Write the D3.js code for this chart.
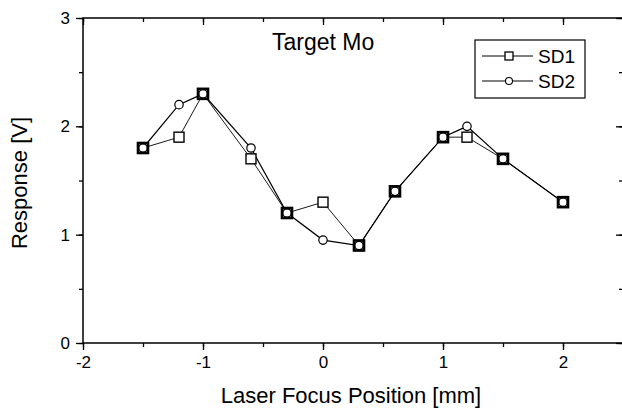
<!DOCTYPE html>
<html>
<head>
<meta charset="utf-8">
<script src="https://cdn.jsdelivr.net/npm/d3@7"></script>
<style>
	body { margin: 0; background: #fff; }
	text { font-family: "Liberation Sans", Arial, sans-serif; fill: #000; }
</style>
</head>
<body>
<script>
var positions = [-1.5, -1.2, -1, -0.6, -0.3, 0, 0.3, 0.6, 1, 1.2, 1.5, 2];
var sd1 = [1.8, 1.9, 2.3, 1.7, 1.2, 1.3, 0.9, 1.4, 1.9, 1.9, 1.7, 1.3];
var sd2 = [1.8, 2.2, 2.3, 1.8, 1.2, 0.95, 0.9, 1.4, 1.9, 2.0, 1.7, 1.3];
var xTicks = [-2, -1, 0, 1, 2];
var yTicks = [0, 1, 2, 3];

var W = 622, H = 412;
var svg = d3.select("body").append("svg").attr("width", W).attr("height", H);

var x = d3.scaleLinear().domain([-2, 2.5]).range([83, 623]);
var y = d3.scaleLinear().domain([0, 3]).range([343, 18]);

var xMinor = d3.range(-2, 2.51, 0.5);
var yMinor = d3.range(0, 3.01, 0.5);
var plainNum = function(d) { return String(d); };

// frame
svg.append("rect")
	.attr("x", x(-2)).attr("y", y(3))
	.attr("width", x(2.5) - x(-2)).attr("height", y(0) - y(3))
	.attr("fill", "none").attr("stroke", "#000").attr("stroke-width", 1.5);

function labelStyle(g)
{
	g.select(".domain").remove();
	g.selectAll("text").attr("font-size", "17px").attr("font-family", "Liberation Sans, Arial, sans-serif");
}
function noDomain(g) { g.select(".domain").remove(); }

// bottom axis, ticks outward
svg.append("g")
	.attr("transform", "translate(0," + y(0) + ")")
	.call(d3.axisBottom(x).tickValues(xMinor).tickSize(4).tickFormat(""))
	.call(noDomain);
svg.append("g")
	.attr("transform", "translate(0," + y(0) + ")")
	.call(d3.axisBottom(x).tickValues(xTicks).tickSize(7).tickPadding(6).tickFormat(plainNum))
	.call(labelStyle);

// left axis, ticks outward
svg.append("g")
	.attr("transform", "translate(" + x(-2) + ",0)")
	.call(d3.axisLeft(y).tickValues(yMinor).tickSize(4).tickFormat(""))
	.call(noDomain);
svg.append("g")
	.attr("transform", "translate(" + x(-2) + ",0)")
	.call(d3.axisLeft(y).tickValues(yTicks).tickSize(7).tickPadding(6).tickFormat(plainNum))
	.call(labelStyle);

// top axis, ticks inward
svg.append("g")
	.attr("transform", "translate(0," + y(3) + ")")
	.call(d3.axisBottom(x).tickValues(xMinor).tickSize(4).tickFormat(""))
	.call(noDomain);
svg.append("g")
	.attr("transform", "translate(0," + y(3) + ")")
	.call(d3.axisBottom(x).tickValues(xTicks).tickSize(7).tickFormat(""))
	.call(noDomain);

// right axis, ticks inward
svg.append("g")
	.attr("transform", "translate(" + x(2.5) + ",0)")
	.call(d3.axisLeft(y).tickValues(yMinor).tickSize(4).tickFormat(""))
	.call(noDomain);
svg.append("g")
	.attr("transform", "translate(" + x(2.5) + ",0)")
	.call(d3.axisLeft(y).tickValues(yTicks).tickSize(7).tickFormat(""))
	.call(noDomain);

svg.selectAll(".tick line").attr("stroke-width", 1.3);

// axis titles
svg.append("text")
	.attr("x", 351).attr("y", 403)
	.attr("text-anchor", "middle").attr("font-size", "22px")
	.text("Laser Focus Position [mm]");
svg.append("text")
	.attr("transform", "translate(27,183) rotate(-90)")
	.attr("text-anchor", "middle").attr("font-size", "22px")
	.text("Response [V]");
svg.append("text")
	.attr("x", 272).attr("y", 50)
	.attr("font-size", "23px")
	.text("Target Mo");

// series
var pts1 = positions.map(function(p, i) { return [p, sd1[i]]; });
var pts2 = positions.map(function(p, i) { return [p, sd2[i]]; });
var line = d3.line().x(function(d) { return x(d[0]); }).y(function(d) { return y(d[1]); });

svg.append("path").attr("d", line(pts1))
	.attr("fill", "none").attr("stroke", "#000").attr("stroke-width", 0.9);
svg.append("path").attr("d", line(pts2))
	.attr("fill", "none").attr("stroke", "#000").attr("stroke-width", 1.2);

svg.selectAll("rect.sd1").data(pts1).enter().append("rect")
	.classed("sd1", 1)
	.attr("x", function(d) { return x(d[0]) - 5; })
	.attr("y", function(d) { return y(d[1]) - 5; })
	.attr("width", 10).attr("height", 10)
	.attr("fill", "#fff").attr("stroke", "#000").attr("stroke-width", 1.4);

svg.selectAll("circle.sd2").data(pts2).enter().append("circle")
	.classed("sd2", 1)
	.attr("cx", function(d) { return x(d[0]); })
	.attr("cy", function(d) { return y(d[1]); })
	.attr("r", 4.2)
	.attr("fill", "#fff").attr("stroke", "#000").attr("stroke-width", 1.2);

// overlapping points look filled between square and circle
svg.selectAll("rect.both").data(pts1.filter(function(d, i) { return sd1[i] === sd2[i]; })).enter().append("rect")
	.classed("both", 1)
	.attr("x", function(d) { return x(d[0]) - 5; })
	.attr("y", function(d) { return y(d[1]) - 5; })
	.attr("width", 10).attr("height", 10)
	.attr("fill", "none").attr("stroke", "#000").attr("stroke-width", 2.6);

// legend
var legend = svg.append("g");
legend.append("rect")
	.attr("x", 475).attr("y", 40).attr("width", 110).attr("height", 58)
	.attr("fill", "#fff").attr("stroke", "#000").attr("stroke-width", 1.2);

var legendRows = [{ name: "SD1", shape: "square", y: 56 }, { name: "SD2", shape: "circle", y: 81 }];
legendRows.forEach(function(r)
{
	legend.append("line")
		.attr("x1", 482).attr("x2", 533).attr("y1", r.y).attr("y2", r.y)
		.attr("stroke", "#000").attr("stroke-width", 1);
	if (r.shape === "square")
	{
		legend.append("rect")
			.attr("x", 505).attr("y", r.y - 4).attr("width", 8).attr("height", 8)
			.attr("fill", "#fff").attr("stroke", "#000").attr("stroke-width", 1.3);
	}
	else
	{
		legend.append("circle")
			.attr("cx", 509).attr("cy", r.y).attr("r", 3.5)
			.attr("fill", "#fff").attr("stroke", "#000").attr("stroke-width", 1.1);
	}
	legend.append("text")
		.attr("x", 538).attr("y", r.y + 7)
		.attr("font-size", "19px")
		.text(r.name);
});
</script>
</body>
</html>
